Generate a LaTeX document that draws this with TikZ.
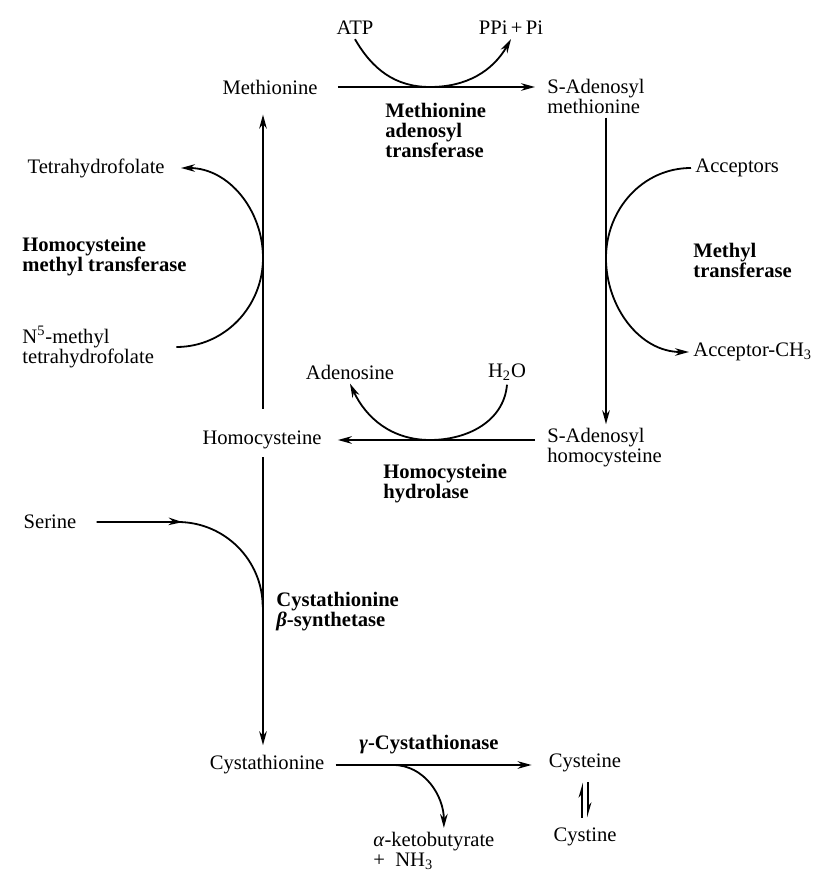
\documentclass[tikz,border=0pt]{standalone}
\usepackage{fontspec}
\setmainfont{Liberation Serif}
\usetikzlibrary{arrows.meta,decorations.markings}

\begin{document}
\begin{tikzpicture}[x=0.5pt,y=0.5pt,
		every node/.style={font=\fontsize{10.3}{10}\selectfont, inner sep=2pt},
		enz/.style={font=\fontsize{10.3}{10}\selectfont\bfseries, align=left, anchor=west},
		txt/.style={align=left, anchor=west},
		l_1/.style={line width=0.9pt},
		arr/.style={l_1, -{Stealth[length=7pt,width=3.8pt]}},
		harp/.style={l_1, -{Stealth[length=6pt,width=3.4pt,harpoon]}},
		midarr/.style={l_1, postaction={decorate},
			decoration={markings, mark=at position 0.4 with {\arrow{Stealth[length=7pt,width=3.8pt]}}}}]
		\useasboundingbox (0,0) rectangle (820,875);
		% metabolites
		\node (atp) at (355,847) {ATP};
		\node (ppi) at (511,847) {PPi\,+\,Pi};
		\node (met) at (270,788) {Methionine};
		\node[txt] (sam) at (543,779) {S-Adenosyl\\methionine};
		\node[anchor=east] (thf) at (169,707) {Tetrahydrofolate};
		\node[txt] (mthf) at (18,528) {N\textsuperscript{5}-methyl\\tetrahydrofolate};
		\node[txt] (acc) at (691,707) {Acceptors};
		\node[txt] (accm) at (689,523) {Acceptor-CH\textsubscript{3}};
		\node (ado) at (350,503) {Adenosine};
		\node (wat) at (507,503) {H\textsubscript{2}O};
		\node (hcy) at (262,435) {Homocysteine};
		\node[txt] (sah) at (543,427) {S-Adenosyl\\homocysteine};
		\node (ser) at (50,353) {Serine};
		\node (cth) at (267,110) {Cystathionine};
		\node (cys) at (585,112) {Cysteine};
		\node (cyss) at (585,38) {Cystine};
		\node[txt] (akb) at (369,24) {\textit{α}-ketobutyrate\\+\ \ NH\textsubscript{3}};
		% enzymes
		\node[enz] (mat) at (381,745) {Methionine\\adenosyl\\transferase};
		\node[enz] (hmt) at (18,618) {Homocysteine\\methyl transferase};
		\node[enz] (mt) at (689,615) {Methyl\\transferase};
		\node[enz] (hh) at (379,391) {Homocysteine\\hydrolase};
		\node[enz] (cbs) at (272,263) {Cystathionine\\\textit{β}-synthetase};
		\node[enz, anchor=center] (cgl) at (429,130) {\textit{γ}-Cystathionase};
		% where the side arcs touch the main lines
		\coordinate (colL) at (263,0);
		\coordinate (colR) at (606,0);
		\coordinate (tMAT) at (430,788);
		\coordinate (tHMT) at (263,617);
		\coordinate (tMT) at (606,617);
		\coordinate (tHH) at (430,435);
		\coordinate (tCGL) at (393,110);
		
		% methionine -> SAM
		\draw[arr, shorten <=8pt, shorten >=4pt] (met.east) -- (met.east -| sam.west);
		\draw[arr] (atp.south) to[out=-60,in=180] (tMAT) to[out=0,in=-120] (ppi.south);
		% SAM -> SAH
		\draw[arr] (colR |- sam.south) -- (colR |- sah.north);
		\draw[arr] (acc.west) to[out=180,in=90] (tMT) to[out=-90,in=180] (accm.west);
		% SAH -> homocysteine
		\draw[arr, shorten <=4pt, shorten >=6pt] (hcy.east -| sah.west) -- (hcy.east);
		\draw[arr] (wat.south) to[out=-95,in=0] (tHH) to[out=180,in=-65] (ado.south);
		% homocysteine -> methionine
		\draw[arr, shorten <=9pt, shorten >=8pt] (colL |- hcy.north) -- (colL |- met.south);
		\draw[arr] ([xshift=9pt]mthf.east) to[out=0,in=-90] (tHMT) to[out=90,in=0] ([xshift=6pt]thf.east);
		% homocysteine -> cystathionine
		\draw[arr, shorten <=2pt, shorten >=3pt] (colL |- hcy.south) -- (colL |- cth.north);
		\draw[midarr] ([xshift=8pt]ser.east) -- ++(81,0) arc[start angle=90,end angle=0,radius=85];
		% cystathionine -> cysteine
		\draw[arr, shorten <=3.5pt, shorten >=6.5pt] (cth.east) -- (cth.east -| cys.west);
		\draw[arr] (tCGL) to[out=0,in=90] ([xshift=5pt]akb.north);
		\draw[harp, shorten <=3pt, shorten >=3pt] ([xshift=-1.5pt]cyss.north) -- ([xshift=-1.5pt]cys.south);
		\draw[harp, shorten <=3pt, shorten >=3pt] ([xshift=1.5pt]cys.south) -- ([xshift=1.5pt]cyss.north);
\end{tikzpicture}
\end{document}
